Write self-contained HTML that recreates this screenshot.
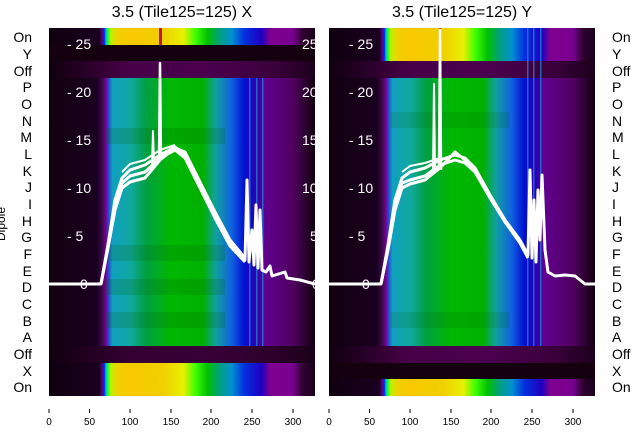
<!DOCTYPE html>
<html><head><meta charset="utf-8"><style>
html,body{margin:0;padding:0;background:#fff;}
svg{display:block;font-family:"Liberation Sans","DejaVu Sans",sans-serif;}
</style></head><body>
<svg width="640" height="440" viewBox="0 0 640 440" xmlns="http://www.w3.org/2000/svg">
<defs>
<linearGradient id="dip" x1="0" x2="1" y1="0" y2="0">
<stop offset="0" stop-color="#12000f"/><stop offset="0.18" stop-color="#1a0020"/>
<stop offset="0.2" stop-color="#3a0a4a"/><stop offset="0.214" stop-color="#7a0090"/>
<stop offset="0.223" stop-color="#3040d0"/><stop offset="0.238" stop-color="#10a0c0"/>
<stop offset="0.306" stop-color="#10a8a0"/><stop offset="0.367" stop-color="#00a040"/>
<stop offset="0.46" stop-color="#00b800"/><stop offset="0.58" stop-color="#00b000"/>
<stop offset="0.627" stop-color="#10a0a0"/><stop offset="0.688" stop-color="#1060e0"/>
<stop offset="0.734" stop-color="#0010d0"/><stop offset="0.78" stop-color="#3000b0"/>
<stop offset="0.81" stop-color="#600090"/><stop offset="0.917" stop-color="#500060"/>
<stop offset="0.98" stop-color="#200020"/><stop offset="1" stop-color="#100010"/>
</linearGradient>
<linearGradient id="spec" x1="0" x2="1" y1="0" y2="0">
<stop offset="0" stop-color="#10000f"/><stop offset="0.19" stop-color="#1a0020"/>
<stop offset="0.2" stop-color="#600080"/><stop offset="0.208" stop-color="#0020ff"/>
<stop offset="0.214" stop-color="#00c0c0"/><stop offset="0.22" stop-color="#00ff40"/>
<stop offset="0.232" stop-color="#c0f000"/><stop offset="0.26" stop-color="#f0d000"/>
<stop offset="0.306" stop-color="#f8c800"/><stop offset="0.43" stop-color="#f0d000"/>
<stop offset="0.505" stop-color="#e8f000"/><stop offset="0.55" stop-color="#40ff00"/>
<stop offset="0.596" stop-color="#00c000"/><stop offset="0.642" stop-color="#00a080"/>
<stop offset="0.688" stop-color="#0090d0"/><stop offset="0.734" stop-color="#0030e0"/>
<stop offset="0.8" stop-color="#2000c0"/><stop offset="0.832" stop-color="#800090"/>
<stop offset="0.917" stop-color="#780090"/><stop offset="0.954" stop-color="#300030"/>
<stop offset="1" stop-color="#18001a"/>
</linearGradient>
<linearGradient id="off" x1="0" x2="1" y1="0" y2="0">
<stop offset="0" stop-color="#10000f"/><stop offset="0.12" stop-color="#240024"/>
<stop offset="0.3" stop-color="#480048"/><stop offset="0.6" stop-color="#4a004e"/>
<stop offset="0.85" stop-color="#3a003a"/><stop offset="1" stop-color="#1c001c"/>
</linearGradient>
<clipPath id="cl"><rect x="49" y="28" width="266" height="368"/></clipPath>
<clipPath id="cr"><rect x="329" y="28" width="266" height="368"/></clipPath>
</defs>

<!-- LEFT PANEL -->
<g clip-path="url(#cl)">
<rect x="49" y="28" width="266" height="17" fill="url(#spec)"/>
<rect x="49" y="45" width="266" height="17" fill="#14000f"/>
<rect x="49" y="61" width="266" height="17" fill="url(#off)"/>
<rect x="49" y="78" width="266" height="268" fill="url(#dip)"/>
<rect x="49" y="346" width="266" height="17" fill="url(#off)"/>
<rect x="49" y="346" width="266" height="17" fill="#14000f" opacity="0.35"/>
<rect x="49" y="363" width="266" height="33" fill="url(#spec)"/>
<g fill="#006000" opacity="0.18">
<rect x="105" y="128" width="120" height="16"/><rect x="105" y="245" width="120" height="16"/><rect x="105" y="312" width="120" height="16"/><rect x="105" y="279" width="120" height="16"/>
</g>
<rect x="159" y="28" width="3" height="17" fill="#d01010"/>
<g fill="#1890e0" opacity="0.7"><rect x="249" y="78" width="1.5" height="268"/><rect x="256" y="78" width="1.5" height="268"/><rect x="262" y="78" width="1.5" height="268"/></g>
<g fill="#fff" font-size="14">
<text x="67" y="49">- 25</text><text x="67" y="97">- 20</text><text x="67" y="145">- 15</text><text x="67" y="193">- 10</text><text x="67" y="241">- 5</text><text x="80" y="289">0</text>
<text x="302" y="49">25</text><text x="302" y="97">20</text><text x="302" y="145">15</text><text x="302" y="193">10</text><text x="310" y="241">5</text><text x="312" y="289">0</text>
</g>
<g fill="none" stroke="#fff" stroke-width="3" stroke-linejoin="round">
<polyline points="49,284 101,284 108,245 115,200 122,178 130,170 145,165 160,155 175,147 185,155 200,185 215,215 230,243 245,260 247,180 249,262 252,230 254,265 256,205 258,268 260,210 262,270 266,272 270,266 272,276 285,272 287,278 300,280 315,284"/>
<polyline points="101,284 108,245 115,205 122,183 130,176 145,172 160,158 175,150 185,158 200,188 215,218 230,246 245,262"/>
<polyline points="101,284 108,248 115,210 122,188 130,182 145,178 160,160 175,148 185,152 200,182 215,212 230,240 245,258"/>
<polyline points="122,172 130,164 145,160 160,150 175,145" stroke-width="2"/>
<polyline points="152,165 153,131 154,165" stroke-width="2"/>
<polyline points="159,160 160,63 161,160" stroke-width="2.5"/>
</g>
</g>

<!-- RIGHT PANEL -->
<g clip-path="url(#cr)">
<rect x="329" y="28" width="266" height="34" fill="url(#spec)"/>
<rect x="329" y="61" width="266" height="17" fill="url(#off)"/>
<rect x="329" y="78" width="266" height="268" fill="url(#dip)"/>
<rect x="329" y="346" width="266" height="17" fill="url(#off)"/>
<rect x="329" y="363" width="266" height="17" fill="#14000f"/>
<rect x="329" y="379" width="266" height="17" fill="url(#spec)"/>
<g fill="#006000" opacity="0.15"><rect x="390" y="312" width="120" height="16"/><rect x="390" y="112" width="120" height="16"/></g>
<g fill="#1890e0" opacity="0.7"><rect x="527" y="28" width="1.5" height="318"/><rect x="533" y="28" width="1.5" height="318"/><rect x="540" y="28" width="1.5" height="318"/></g>
<rect x="439" y="28" width="2" height="4" fill="#e02020"/>
<g fill="#fff" font-size="14">
<text x="349" y="49">- 25</text><text x="349" y="97">- 20</text><text x="349" y="145">- 15</text><text x="349" y="193">- 10</text><text x="349" y="241">- 5</text><text x="362" y="289">0</text>
</g>
<g fill="none" stroke="#fff" stroke-width="3" stroke-linejoin="round">
<polyline points="329,284 381,284 388,245 395,200 402,178 410,172 425,168 440,160 455,155 465,158 475,168 490,195 505,220 520,240 528,255 530,170 532,258 534,200 536,262 538,190 540,240 542,175 545,250 548,272 555,276 565,275 575,276 585,284 595,284"/>
<polyline points="381,284 388,248 395,205 402,183 410,180 425,176 440,165 455,160 465,163 475,172 490,198 505,222 520,243 528,258"/>
<polyline points="381,284 388,250 395,210 402,188 410,184 425,180 440,168 455,152 465,160 475,170"/>
<polyline points="402,172 410,166 425,163 440,158" stroke-width="2"/>
<polyline points="433,170 434,84 435,170" stroke-width="2"/>
<polyline points="439,170 440,30 441,170" stroke-width="2.5"/>
</g>
</g>

<!-- titles -->
<g font-size="16" fill="#000" text-anchor="middle">
<text x="182" y="17">3.5 (Tile125=125) X</text>
<text x="462" y="17">3.5 (Tile125=125) Y</text>
</g>
<!-- row labels -->
<g font-size="14" fill="#000" text-anchor="end">
<text x="32" y="42">On</text><text x="32" y="59">Y</text><text x="32" y="76">Off</text><text x="32" y="92">P</text><text x="32" y="109">O</text><text x="32" y="126">N</text><text x="32" y="142">M</text><text x="32" y="159">L</text><text x="32" y="176">K</text><text x="32" y="192">J</text><text x="32" y="209">I</text><text x="32" y="226">H</text><text x="32" y="242">G</text><text x="32" y="259">F</text><text x="32" y="276">E</text><text x="32" y="292">D</text><text x="32" y="309">C</text><text x="32" y="326">B</text><text x="32" y="342">A</text><text x="32" y="359">Off</text><text x="32" y="376">X</text><text x="32" y="392">On</text>
</g>
<g font-size="14" fill="#000" text-anchor="start">
<text x="612" y="42">On</text><text x="612" y="59">Y</text><text x="612" y="76">Off</text><text x="612" y="92">P</text><text x="612" y="109">O</text><text x="612" y="126">N</text><text x="612" y="142">M</text><text x="612" y="159">L</text><text x="612" y="176">K</text><text x="612" y="192">J</text><text x="612" y="209">I</text><text x="612" y="226">H</text><text x="612" y="242">G</text><text x="612" y="259">F</text><text x="612" y="276">E</text><text x="612" y="292">D</text><text x="612" y="309">C</text><text x="612" y="326">B</text><text x="612" y="342">A</text><text x="612" y="359">Off</text><text x="612" y="376">X</text><text x="612" y="392">On</text>
</g>
<text x="0" y="0" font-size="12" fill="#000" transform="translate(5,224) rotate(-90)" text-anchor="middle">Dipole</text>
<!-- x ticks -->
<g stroke="#000" stroke-width="1">
<line x1="49" y1="409" x2="49" y2="413"/><line x1="89.5" y1="409" x2="89.5" y2="413"/><line x1="130" y1="409" x2="130" y2="413"/><line x1="171" y1="409" x2="171" y2="413"/><line x1="211" y1="409" x2="211" y2="413"/><line x1="252" y1="409" x2="252" y2="413"/><line x1="293" y1="409" x2="293" y2="413"/>
<line x1="329" y1="409" x2="329" y2="413"/><line x1="369.5" y1="409" x2="369.5" y2="413"/><line x1="410" y1="409" x2="410" y2="413"/><line x1="451" y1="409" x2="451" y2="413"/><line x1="491" y1="409" x2="491" y2="413"/><line x1="532" y1="409" x2="532" y2="413"/><line x1="573" y1="409" x2="573" y2="413"/>
</g>
<g font-size="10" fill="#000" text-anchor="middle">
<text x="49" y="425">0</text><text x="89.5" y="425">50</text><text x="130" y="425">100</text><text x="171" y="425">150</text><text x="211" y="425">200</text><text x="252" y="425">250</text><text x="293" y="425">300</text>
<text x="329" y="425">0</text><text x="369.5" y="425">50</text><text x="410" y="425">100</text><text x="451" y="425">150</text><text x="491" y="425">200</text><text x="532" y="425">250</text><text x="573" y="425">300</text>
</g>
</svg>
</body></html>
